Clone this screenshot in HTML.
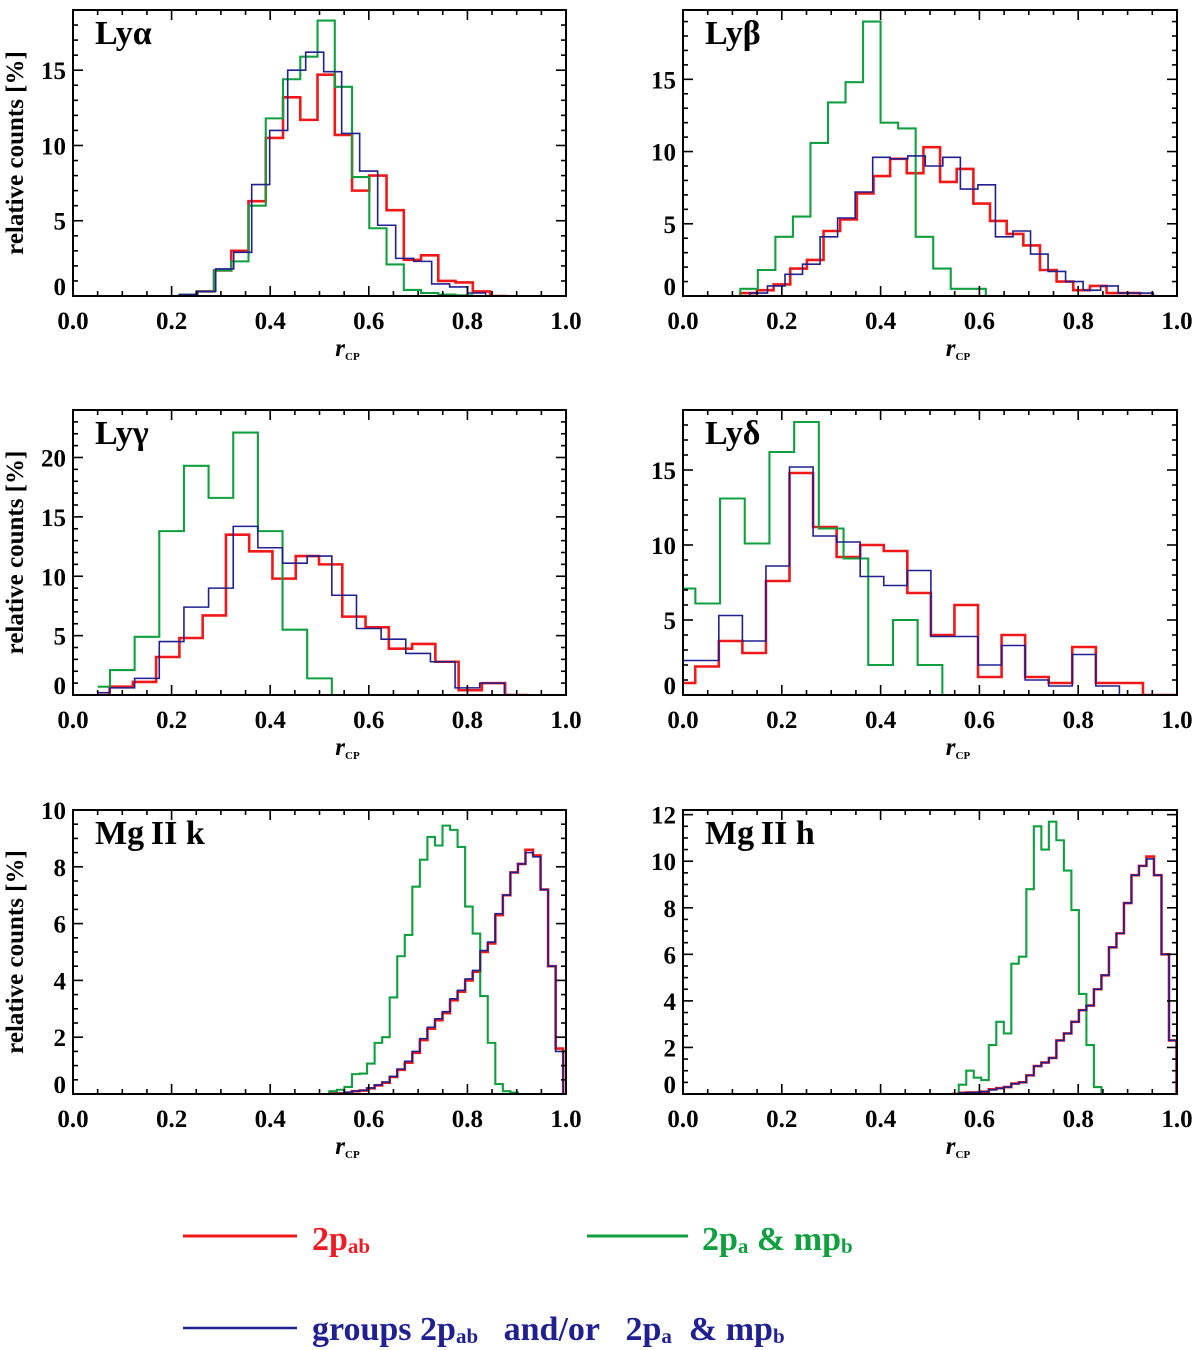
<!DOCTYPE html>
<html><head><meta charset="utf-8">
<style>
html,body{margin:0;padding:0;background:#fff;}
svg{display:block;font-family:"Liberation Serif",serif;font-weight:bold;}
</style></head>
<body>
<svg id="chart" width="1200" height="1350" viewBox="0 0 1200 1350" xmlns="http://www.w3.org/2000/svg">
<g id="panels"></g>
<g>
  <line x1="183" y1="1236" x2="297" y2="1236" stroke="#f01818" stroke-width="3"/>
  <text x="312" y="1250" font-size="34" fill="#ee1c24">2p<tspan font-size="21" dy="3">ab</tspan></text>
  <line x1="587" y1="1236" x2="688" y2="1236" stroke="#10a040" stroke-width="3"/>
  <text x="702" y="1250" font-size="34" fill="#10a040">2p<tspan font-size="21" dy="3">a</tspan><tspan dy="-3">&#160;&amp;&#160;mp</tspan><tspan font-size="21" dy="3">b</tspan></text>
  <line x1="183" y1="1328" x2="297" y2="1328" stroke="#202090" stroke-width="2.5"/>
  <text x="312" y="1340" font-size="34" fill="#202090">groups 2p<tspan font-size="21" dy="3">ab</tspan><tspan dy="-3">&#160;&#160;&#160;and/or&#160;&#160;&#160;2p</tspan><tspan font-size="21" dy="3">a</tspan><tspan dy="-3">&#160;&#160;&amp;&#160;mp</tspan><tspan font-size="21" dy="3">b</tspan></text>
</g>
</svg>
<script>
// ---- data: bin start, bin width, relative counts [%] ----
const lyaRedStart = 0.216, lyaRedW = 0.035;
const lyaRed = [0.07,0.3,1.7,3.0,6.3,10.5,13.2,11.7,14.7,10.7,7.0,8.0,5.7,2.4,2.7,1.0,0.9,0.3,0];
const lyaGreenStart = 0.216, lyaGreenW = 0.035;
const lyaGreen = [0.1,0.3,1.7,2.3,6.0,11.8,14.4,15.9,18.3,13.9,7.9,4.5,2.1,0.4,0.2,0.1,0.05,0];
const lyaBlueStart = 0.18, lyaBlueW = 0.0365;
const lyaBlue = [0,0.1,0.3,1.8,2.9,7.4,11.0,15.0,16.2,14.9,10.8,8.3,4.7,2.5,2.3,0.8,0.6,0.2,0];

const lybRedStart = 0.116, lybRedW = 0.0337;
const lybRed = [0.2,0.4,0.8,1.9,2.5,4.5,5.3,7.1,8.3,9.5,8.5,10.3,7.9,8.8,6.4,5.2,4.3,3.5,1.8,1.0,0.4,0.7,0.2,0.2,0];
const lybGreenStart = 0.116, lybGreenW = 0.0355;
const lybGreen = [0.5,1.8,4.1,5.5,10.6,13.4,14.8,19.0,12.0,11.6,4.1,1.9,0.5,0.5,0,0,0,0,0,0,0,0,0];
const lybBlueStart = 0.1, lybBlueW = 0.0355;
const lybBlue = [0,0.2,0.7,1.5,2.2,4.1,5.4,7.2,9.6,9.5,9.7,9.0,9.6,7.4,7.7,4.1,4.5,2.9,1.7,1.0,0.4,0.7,0.2,0.2,0];

const lygRedStart = 0.027, lygRedW = 0.0472;
const lygRed = [0,0.7,1.1,3.2,4.8,6.7,13.5,12.1,9.8,11.7,11.0,6.6,5.7,3.9,4.3,2.8,0.4,1.0,0];
const lygGreenStart = 0.025, lygGreenW = 0.05;
const lygGreen = [0.7,2.1,4.9,13.8,19.3,16.6,22.1,13.8,5.5,1.4,0,0,0,0,0,0,0];
const lygBlueStart = 0.025, lygBlueW = 0.05;
const lygBlue = [0.2,0.6,1.4,4.5,7.4,9.0,14.2,12.4,11.1,11.7,8.4,5.6,4.7,3.5,2.8,0.6,1.0,0];

const lydRedStart = -0.0229, lydRedW = 0.0477;
const lydRed = [0.8,1.9,3.6,2.8,7.6,14.8,11.2,9.2,10.0,9.6,6.8,4.0,6.0,1.2,4.0,1.2,0.8,3.2,0.8,0.8,0,0];
const lydGreenStart = -0.025, lydGreenW = 0.05;
const lydGreen = [7.1,6.1,13.1,10.1,16.2,18.2,11.1,9.1,2.0,5.0,2.0,0,0];
const lydBlueStart = -0.0229, lydBlueW = 0.0477;
const lydBlue = [2.3,2.3,5.3,3.6,8.6,15.2,10.6,10.2,7.9,7.3,8.3,3.9,3.9,2.0,3.3,1.0,0.6,2.7,0.6,0];

const mgkRedStart = 0.52, mgkRedW = 0.0153;
const mgkRed = [0.02,0.02,0.05,0.1,0.12,0.2,0.3,0.4,0.6,0.85,1.1,1.45,1.9,2.3,2.6,2.85,3.3,3.6,4.0,4.3,5.0,5.3,6.3,7.0,7.8,8.1,8.6,8.4,7.2,4.5,1.6];
const mgkGreenStart = 0.52, mgkGreenW = 0.0153;
const mgkGreen = [0.1,0.15,0.25,0.7,0.72,1.07,1.8,2.0,3.4,4.85,5.6,7.3,8.25,9.05,8.75,9.45,9.3,8.7,6.6,5.65,3.45,1.8,0.35,0.1,0.05];
const mgkBlueStart = 0.52, mgkBlueW = 0.0153;
const mgkBlue = [0.01,0.02,0.06,0.1,0.13,0.21,0.32,0.42,0.62,0.88,1.15,1.5,1.95,2.35,2.65,2.9,3.35,3.65,4.05,4.35,5.05,5.35,6.35,7.0,7.8,8.1,8.5,8.35,7.2,4.5,1.5];

const mghRedStart = 0.543, mghRedW = 0.0152;
const mghRed = [0,0.05,0.07,0.07,0.1,0.2,0.25,0.3,0.45,0.5,0.8,1.2,1.35,1.55,2.3,2.6,3.1,3.6,3.8,4.5,5.1,6.3,6.9,8.2,9.4,9.8,10.2,9.4,6.0,2.3];
const mghGreenStart = 0.543, mghGreenW = 0.0152;
const mghGreen = [0,0.4,1.0,0.7,0.6,2.1,3.1,2.6,5.6,5.9,8.8,11.5,10.5,11.7,10.9,9.6,7.9,4.3,2.1,0.3,0];
const mghBlueStart = 0.543, mghBlueW = 0.0152;
const mghBlue = [0,0.04,0.06,0.07,0.1,0.18,0.24,0.3,0.44,0.5,0.8,1.2,1.35,1.55,2.3,2.6,3.1,3.6,3.8,4.5,5.1,6.3,6.9,8.2,9.4,9.8,10.1,9.4,6.0,2.3];

const xTickLabels = ["0.0","0.2","0.4","0.6","0.8","1.0"];
const lyTickLabels = ["0","5","10","15","20"];
const mgTickLabels = ["0","2","4","6","8","10","12"];

const panels = [
 {name:"ly-alpha", label:"Ly\u03B1", x0:73, x1:566, y0:10, y1:296, ymax:19.0, major:5, minor:1, ticks:lyTickLabels, left:true, xmin:0,
  red:[lyaRedStart,lyaRedW,lyaRed], green:[lyaGreenStart,lyaGreenW,lyaGreen], blue:[lyaBlueStart,lyaBlueW,lyaBlue]},
 {name:"ly-beta", label:"Ly\u03B2", x0:683, x1:1177, y0:10, y1:296, ymax:19.8, major:5, minor:1, ticks:lyTickLabels, left:false, xmin:0,
  red:[lybRedStart,lybRedW,lybRed], green:[lybGreenStart,lybGreenW,lybGreen], blue:[lybBlueStart,lybBlueW,lybBlue]},
 {name:"ly-gamma", label:"Ly\u03B3", x0:73, x1:566, y0:410, y1:695, ymax:24.0, major:5, minor:1, ticks:lyTickLabels, left:true, xmin:0.05,
  red:[lygRedStart,lygRedW,lygRed], green:[lygGreenStart,lygGreenW,lygGreen], blue:[lygBlueStart,lygBlueW,lygBlue]},
 {name:"ly-delta", label:"Ly\u03B4", x0:683, x1:1177, y0:410, y1:695, ymax:19.0, major:5, minor:1, ticks:lyTickLabels, left:false, xmin:0,
  red:[lydRedStart,lydRedW,lydRed], green:[lydGreenStart,lydGreenW,lydGreen], blue:[lydBlueStart,lydBlueW,lydBlue]},
 {name:"mg-ii-k", label:"Mg\u2009II k", x0:73, x1:566, y0:810, y1:1094, ymax:10.0, major:2, minor:0.5, ticks:mgTickLabels, left:true, xmin:0,
  red:[mgkRedStart,mgkRedW,mgkRed], green:[mgkGreenStart,mgkGreenW,mgkGreen], blue:[mgkBlueStart,mgkBlueW,mgkBlue]},
 {name:"mg-ii-h", label:"Mg\u2009II h", x0:683, x1:1177, y0:810, y1:1094, ymax:12.2, major:2, minor:0.5, ticks:mgTickLabels, left:false, xmin:0,
  red:[mghRedStart,mghRedW,mghRed], green:[mghGreenStart,mghGreenW,mghGreen], blue:[mghBlueStart,mghBlueW,mghBlue]}
];

const NS = "http://www.w3.org/2000/svg";
const root = document.getElementById("panels");
function mk(tag, attrs, parent){
  const e = document.createElementNS(NS, tag);
  for (const k in attrs) e.setAttribute(k, attrs[k]);
  parent.appendChild(e);
  return e;
}

panels.forEach((p, pi) => {
  const g = mk("g", {}, root);
  
  
  const X = v => p.x0 + v * (p.x1 - p.x0);
  const Y = v => p.y1 - v / p.ymax * (p.y1 - p.y0);

  const cp = mk("clipPath", {id:"clip"+pi}, g);
  mk("rect", {x:X(p.xmin), y:p.y0, width:p.x1-X(p.xmin), height:p.y1-p.y0}, cp);

  const series = [["red","#f01818",2.6],["green","#10a040",2.1],["blue","#202090",1.6]];
  const sg = mk("g", {"clip-path":"url(#clip"+pi+")"}, g);
  series.forEach(([key,color,w]) => {
    const [start, bw, vals] = p[key];
    let d = "M" + X(start).toFixed(2) + "," + Y(0).toFixed(2);
    vals.forEach((v, i) => {
      d += " V" + Y(v).toFixed(2) + " H" + X(start + (i+1)*bw).toFixed(2);
    });
    d += " V" + Y(0).toFixed(2);
    const path = mk("path", {d:d, fill:"none", stroke:color, "stroke-width":w, "stroke-linejoin":"miter"}, sg);
    
    
  });

  const box = mk("rect", {x:p.x0, y:p.y0, width:p.x1-p.x0, height:p.y1-p.y0, fill:"none", stroke:"#000", "stroke-width":2}, g);
  
  

  const tg = mk("g", {stroke:"#000", "stroke-width":1.6}, g);
  
  
  for (let k = 0; k <= 20; k++) {
    const v = k * 0.05, len = (k % 4 === 0) ? 10 : 5;
    mk("line", {x1:X(v), y1:p.y1, x2:X(v), y2:p.y1-len}, tg);
    mk("line", {x1:X(v), y1:p.y0, x2:X(v), y2:p.y0+len}, tg);
  }
  const nMinor = Math.floor(p.ymax / p.minor + 1e-6);
  for (let k = 0; k <= nMinor; k++) {
    const v = k * p.minor;
    const isMaj = Math.abs(v / p.major - Math.round(v / p.major)) < 1e-6;
    const len = isMaj ? 10 : 5;
    mk("line", {x1:p.x0, y1:Y(v), x2:p.x0+len, y2:Y(v)}, tg);
    mk("line", {x1:p.x1, y1:Y(v), x2:p.x1-len, y2:Y(v)}, tg);
  }

  xTickLabels.forEach((t, i) => {
    const tx = mk("text", {x:X(i*0.2), y:p.y1+33, "font-size":25, "text-anchor":"middle", fill:"#000"}, g);
    tx.textContent = t;
    
    
  });
  p.ticks.forEach((t, i) => {
    const v = i * p.major;
    if (v > p.ymax + 0.01) return;
    let yy = Y(v) + 9;
    if (i === 0) yy = Y(0) - 1;
    const ty = mk("text", {x:p.x0-7, y:yy, "font-size":25, "text-anchor":"end", fill:"#000"}, g);
    ty.textContent = t;
    
    
  });

  const pl = mk("text", {x:p.x0+22, y:p.y0+34, "font-size":34, fill:"#000"}, g);
  pl.textContent = p.label;
  
  

  const xt = mk("text", {x:(p.x0+p.x1)/2 + 28, y:p.y1+60, "font-size":25, "text-anchor":"middle", fill:"#000"}, g);
  
  
  const r = mk("tspan", {"font-style":"italic"}, xt); r.textContent = "r";
  const sb = mk("tspan", {"font-size":11, dy:4}, xt); sb.textContent = "CP";

  if (p.left) {
    const cy = (p.y0 + p.y1) / 2;
    const yt = mk("text", {x:0, y:0, "font-size":25, "text-anchor":"middle", fill:"#000",
      transform:"translate(23," + cy + ") rotate(-90)"}, g);
    yt.textContent = "relative counts [%]";
    
    
  }
});
</script>
</body></html>
